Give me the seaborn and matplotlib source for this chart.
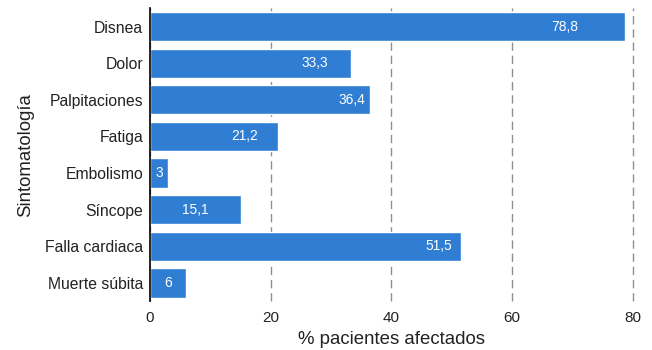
import matplotlib
matplotlib.use("Agg")
import matplotlib.pyplot as plt
import pandas as pd
import seaborn as sns

# Symptoms and share of affected patients (%)
sintomas = ["Disnea", "Dolor", "Palpitaciones", "Fatiga", "Embolismo",
            "Síncope", "Falla cardiaca", "Muerte súbita"]
porcentajes = [78.8, 33.3, 36.4, 21.2, 3.0, 15.1, 51.5, 6.0]
xticks = [0, 20, 40, 60, 80]

# Label placement inside each bar (pixels from the bar end; None = centred)
label_pad = [47, 23, 4, 20, None, None, 9, None]

df = pd.DataFrame({"Sintomatología": sintomas, "pct": porcentajes})

sns.set_style("white")
plt.rcParams["font.family"] = ["Liberation Sans", "DejaVu Sans"]

W, H = 652, 350
fig = plt.figure(figsize=(W / 100, H / 100), dpi=100)
ax = fig.add_axes([150 / W, (H - 301.3) / H, (632.7 - 150) / W, (301.3 - 8.2) / H])

bar_color = "#2f7ed3"
sns.barplot(data=df, y="Sintomatología", x="pct", orient="h", color=bar_color,
            saturation=1, width=0.8, ax=ax, zorder=2)

ax.set_xlim(0, 80)
ax.set_xticks(xticks)
ax.set_xticklabels([str(t) for t in xticks])
ax.xaxis.grid(True, linestyle=(0, (6, 3.5)), color="#8f8f8f", linewidth=1.0, zorder=0)
ax.yaxis.grid(False)
ax.set_axisbelow(True)
for gl in ax.get_xgridlines():
    gl.set_clip_on(False)

for side in ["top", "right", "bottom"]:
    ax.spines[side].set_visible(False)
ax.spines["left"].set_color("black")
ax.spines["left"].set_linewidth(1.2)
ax.spines["left"].set_zorder(3)

ax.tick_params(axis="both", length=0, colors="#222222", labelsize=11.3)
ax.tick_params(axis="y", pad=5)
ax.tick_params(axis="x", pad=7, labelsize=11)

ax.set_xlabel("% pacientes afectados", fontsize=13.4, color="#222222", labelpad=4)
ax.set_ylabel("Sintomatología", fontsize=13.4, color="#222222", labelpad=8)

# Value labels inside bars
for i, (v, pad) in enumerate(zip(porcentajes, label_pad)):
    txt = f"{v:.1f}".replace(".", ",") if v != int(v) else str(int(v))
    if pad is None:
        ax.text(v / 2, i, txt, ha="center", va="center", color="white",
                fontsize=9.9, zorder=4)
    else:
        ax.annotate(txt, xy=(v, i), xytext=(-pad, 0), textcoords="offset pixels",
                    ha="right", va="center", color="white", fontsize=9.9, zorder=4)

fig.savefig("out.png", dpi=100)
